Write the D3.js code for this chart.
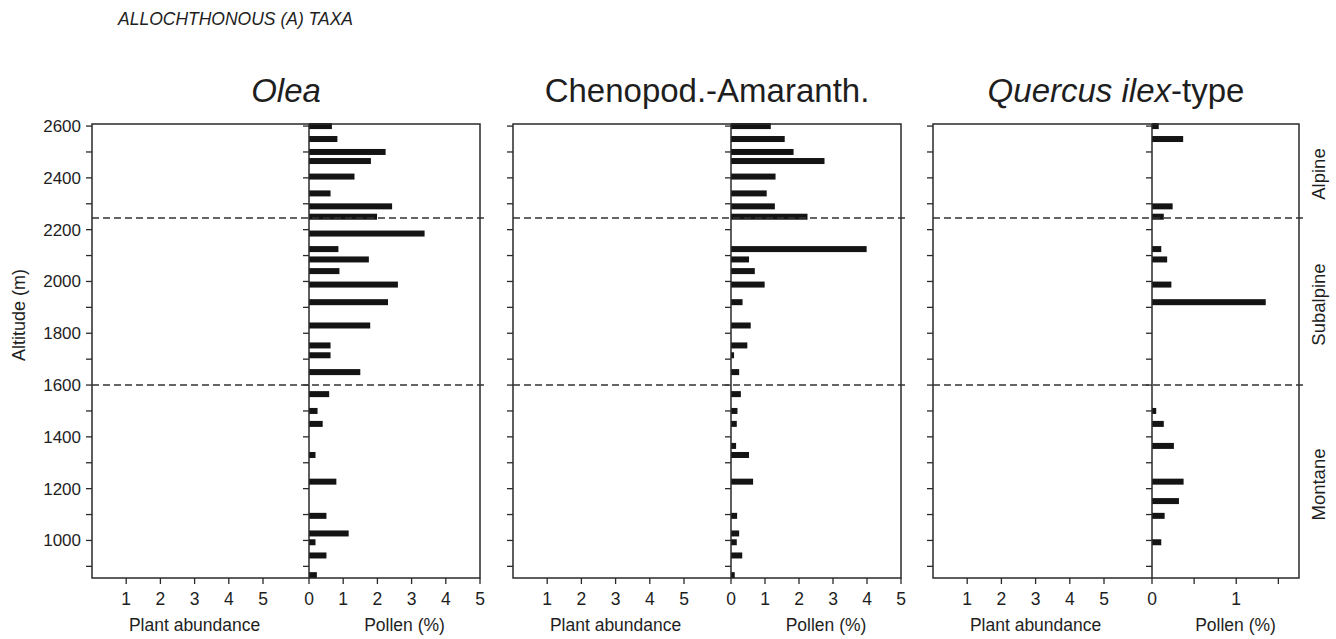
<!DOCTYPE html>
<html>
<head>
<meta charset="utf-8">
<script src="https://cdn.jsdelivr.net/npm/d3@7"></script>
<style>
  body { margin: 0; background: #fff; }
  text { font-family: "Liberation Sans", Arial, sans-serif; fill: #1e1e1e; }
</style>
</head>
<body>
<svg id="chart" width="1336" height="639"></svg>
<script>
/*global d3*/
// sampling altitudes (m), shared by the three taxa
const altitudes = [2600, 2550, 2500, 2465, 2405, 2340, 2290, 2250, 2185, 2125, 2085, 2040, 1988, 1920, 1830,
  1753, 1715, 1650, 1565, 1500, 1450, 1365, 1330, 1227, 1152, 1095, 1027, 993, 942, 866]

// pollen percentages per altitude (0 = no bar)
const oleaPollen = [0.67, 0.83, 2.24, 1.81, 1.33, 0.63, 2.43, 1.99, 3.38, 0.86, 1.75, 0.89, 2.6, 2.31, 1.79,
  0.63, 0.63, 1.5, 0.59, 0.25, 0.4, 0, 0.19, 0.8, 0, 0.51, 1.16, 0.19, 0.51, 0.23]
const chenoPollen = [1.17, 1.58, 1.84, 2.75, 1.31, 1.05, 1.29, 2.25, 0, 3.99, 0.53, 0.7, 0.99, 0.34, 0.58,
  0.48, 0.09, 0.24, 0.29, 0.19, 0.17, 0.15, 0.53, 0.65, 0, 0.18, 0.24, 0.17, 0.33, 0.11]
const quercusPollen = [0.08, 0.37, 0, 0, 0, 0, 0.245, 0.14, 0, 0.11, 0.18, 0, 0.23, 1.35, 0,
  0, 0, 0, 0, 0.05, 0.14, 0.26, 0, 0.375, 0.32, 0.15, 0, 0.11, 0, 0]

// vegetation belts
const zoneBounds = [2245, 1600]
const zoneNames = ["Alpine", "Subalpine", "Montane"]
const zoneTops = [2608, 2245, 1600]
const zoneBottoms = [2245, 1600, 855]

const plantTicks = [1, 2, 3, 4, 5]
const pollenTicks = [0, 1, 2, 3, 4, 5]
const quercusTicks = [0, 0.5, 1, 1.5]
const quercusLabels = [0, 1]

const panels = [
  { title: [["Olea", true]], values: oleaPollen, left: 92, mid: 309, right: 480, max: 5, ticks: pollenTicks, labels: pollenTicks },
  { title: [["Chenopod.-Amaranth.", false]], values: chenoPollen, left: 513, mid: 731, right: 901, max: 5, ticks: pollenTicks, labels: pollenTicks },
  { title: [["Quercus ilex", true], ["-type", false]], values: quercusPollen, left: 933, mid: 1152, right: 1299, max: 1.745, ticks: quercusTicks, labels: quercusLabels },
]

const svg = d3.select("#chart")
const ink = "#2a2a2a"

const y = d3.scaleLinear().domain([855, 2608]).range([578, 124])

svg.append("text")
  .attr("x", 118).attr("y", 25)
  .style("font-size", "17.5px").style("font-style", "italic")
  .text("ALLOCHTHONOUS (A) TAXA")

svg.append("text")
  .attr("transform", "translate(25,315) rotate(-90)")
  .attr("text-anchor", "middle")
  .style("font-size", "18px")
  .text("Altitude (m)")

panels.forEach((p, pi) => {
  let g = svg.append("g")
  let xPlant = d3.scaleLinear().domain([0, 5]).range([p.left, p.left + 171])
  let xPollen = d3.scaleLinear().domain([0, p.max]).range([p.mid, p.right])

  // title
  let t = g.append("text")
    .attr("x", (p.left + p.right) / 2).attr("y", 102)
    .attr("text-anchor", "middle")
    .style("font-size", "33px")
  p.title.forEach(([s, it]) => t.append("tspan").style("font-style", it ? "italic" : "normal").text(s))

  // bars
  let rows = altitudes.map((a, i) => ({ alt: a, v: p.values[i] })).filter(d => d.v > 0)
  g.selectAll(".bar")
    .data(rows)
    .join("rect")
    .attr("class", "bar")
    .attr("x", p.mid)
    .attr("y", d => y(d.alt) - 3)
    .attr("width", d => xPollen(d.v) - p.mid)
    .attr("height", 6)
    .attr("fill", "#141414")

  // frame
  g.append("rect")
    .attr("x", p.left).attr("y", 124)
    .attr("width", p.right - p.left).attr("height", 578 - 124)
    .attr("fill", "none").attr("stroke", ink).attr("stroke-width", 1.5)
  g.append("line")
    .attr("x1", p.mid).attr("x2", p.mid).attr("y1", 124).attr("y2", 578)
    .attr("stroke", ink).attr("stroke-width", 1.5)

  // altitude ticks on left axis and centre line
  let yt = y.ticks(20)
  ;[p.left, p.mid].forEach(x0 => {
    g.selectAll(null)
      .data(yt)
      .join("line")
      .attr("x1", x0 - 6).attr("x2", x0)
      .attr("y1", d => y(d)).attr("y2", d => y(d))
      .attr("stroke", ink).attr("stroke-width", 1.3)
  })
  if (pi === 0) {
    g.selectAll(null)
      .data(yt.filter(d => d % 200 === 0))
      .join("text")
      .attr("x", p.left - 11).attr("y", d => y(d) + 6)
      .attr("text-anchor", "end")
      .style("font-size", "17px")
      .text(d => d)
  }

  // zone boundaries
  g.selectAll(".zone")
    .data(zoneBounds)
    .join("line")
    .attr("class", "zone")
    .attr("x1", p.left).attr("x2", p.right + 4)
    .attr("y1", d => y(d)).attr("y2", d => y(d))
    .attr("stroke", "#333").attr("stroke-width", 1.4)
    .attr("stroke-dasharray", "7,4")

  // bottom axis: plant abundance
  g.selectAll(null)
    .data(plantTicks)
    .join("line")
    .attr("x1", d => xPlant(d)).attr("x2", d => xPlant(d))
    .attr("y1", 578).attr("y2", 584)
    .attr("stroke", ink).attr("stroke-width", 1.3)
  g.selectAll(null)
    .data(plantTicks)
    .join("text")
    .attr("x", d => xPlant(d)).attr("y", 605)
    .attr("text-anchor", "middle")
    .style("font-size", "17.5px")
    .text(d => d)
  g.append("text")
    .attr("x", xPlant(3)).attr("y", 631)
    .attr("text-anchor", "middle")
    .style("font-size", "17.5px")
    .text("Plant abundance")

  // bottom axis: pollen
  g.selectAll(null)
    .data(p.ticks)
    .join("line")
    .attr("x1", d => xPollen(d)).attr("x2", d => xPollen(d))
    .attr("y1", 578).attr("y2", 584)
    .attr("stroke", ink).attr("stroke-width", 1.3)
  g.selectAll(null)
    .data(p.labels)
    .join("text")
    .attr("x", d => xPollen(d)).attr("y", 605)
    .attr("text-anchor", "middle")
    .style("font-size", "17.5px")
    .text(d => d)
  g.append("text")
    .attr("x", (p.mid + p.right) / 2 + 10).attr("y", 631)
    .attr("text-anchor", "middle")
    .style("font-size", "17.5px")
    .text("Pollen (%)")
})

// belt names on the right
svg.selectAll(".belt")
  .data(zoneNames)
  .join("text")
  .attr("class", "belt")
  .attr("transform", (d, i) => `translate(1325,${(y(zoneTops[i]) + y(zoneBottoms[i])) / 2 + 3}) rotate(-90)`)
  .attr("text-anchor", "middle")
  .style("font-size", "18.5px")
  .text(d => d)
</script>
</body>
</html>
